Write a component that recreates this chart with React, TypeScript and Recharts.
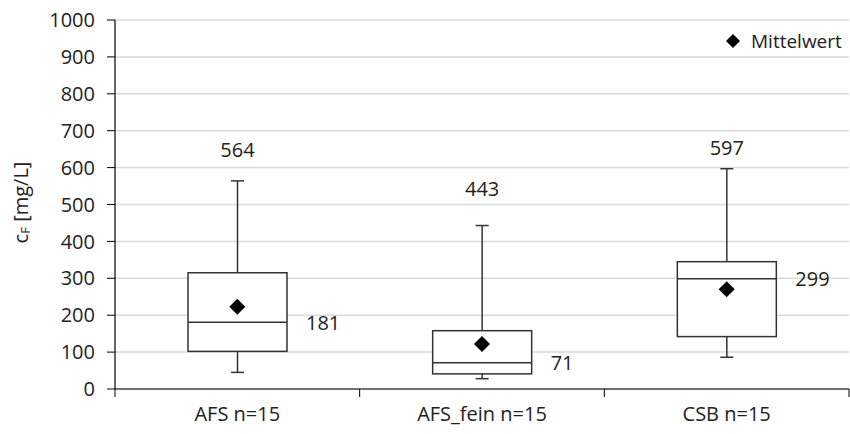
import React from 'react';
import { ComposedChart, Bar, Scatter, XAxis, YAxis, CartesianGrid } from 'recharts';

const categories = ['AFS n=15', 'AFS_fein n=15', 'CSB n=15'];
const minVals = [45, 28, 86];
const q1Vals = [102, 41, 142];
const medianVals = [181, 71, 299];
const q3Vals = [315, 158, 345];
const maxVals = [564, 443, 597];
const meanVals = [223, 122, 270];
const yTicks = [0, 100, 200, 300, 400, 500, 600, 700, 800, 900, 1000];
const xTicks = [0, 0.5, 1, 1.5, 2, 2.5, 3];
const legendLabel = 'Mittelwert';

const data = categories.map((name, i) => ({
  x: i + 0.5,
  name,
  min: minVals[i],
  q1: q1Vals[i],
  median: medianVals[i],
  q3: q3Vals[i],
  max: maxVals[i],
  mean: meanVals[i],
  range: [minVals[i], maxVals[i]],
}));

const FONT = '"Open Sans", sans-serif';
const TEXT = '#222222';
const LINE = '#333333';
const maxLabelLift = [31, 37, 21];

const BoxShape = (props: any) => {
  const { x, y, width, height, payload, index } = props;
  const top = Math.min(y, y + height);
  const bottom = Math.max(y, y + height);
  const p = payload;
  const ppu = (bottom - top) / (p.max - p.min);
  const yOf = (v: number) => bottom - (v - p.min) * ppu;
  const cx = x + width / 2;
  const cap = 6.5;
  return (
    <g>
      <line x1={cx} x2={cx} y1={yOf(p.max)} y2={yOf(p.q3)} stroke={LINE} strokeWidth={1.5} />
      <line x1={cx} x2={cx} y1={yOf(p.q1)} y2={yOf(p.min)} stroke={LINE} strokeWidth={1.5} />
      <line x1={cx - cap} x2={cx + cap} y1={yOf(p.max)} y2={yOf(p.max)} stroke={LINE} strokeWidth={1.5} />
      <line x1={cx - cap} x2={cx + cap} y1={yOf(p.min)} y2={yOf(p.min)} stroke={LINE} strokeWidth={1.5} />
      <rect x={x} y={yOf(p.q3)} width={width} height={yOf(p.q1) - yOf(p.q3)} fill="#fff" stroke={LINE} strokeWidth={1.5} />
      <line x1={x} x2={x + width} y1={yOf(p.median)} y2={yOf(p.median)} stroke={LINE} strokeWidth={1.5} />
      <text x={cx} y={yOf(p.max) - maxLabelLift[index]} textAnchor="middle" dominantBaseline="central" fontFamily={FONT} fontSize={20} fill={TEXT}>
        {p.max}
      </text>
      <text x={x + width + 19} y={yOf(p.median)} textAnchor="start" dominantBaseline="central" fontFamily={FONT} fontSize={20} fill={TEXT}>
        {p.median}
      </text>
    </g>
  );
};

const Diamond = (props: any) => {
  const { cx, cy } = props;
  const r = 8;
  return <path d={`M${cx},${cy - r} L${cx + r},${cy} L${cx},${cy + r} L${cx - r},${cy} Z`} fill="#000" />;
};

const XTick = (props: any) => {
  const { x, y, payload } = props;
  const v = payload.value;
  if (Number.isInteger(v)) {
    return <line x1={x} x2={x} y1={y} y2={y + 8} stroke="#000" strokeWidth={1} />;
  }
  const idx = Math.floor(v);
  return (
    <text x={x} y={y + 24} textAnchor="middle" dominantBaseline="central" fontFamily={FONT} fontSize={20} fill={TEXT}>
      {categories[idx]}
    </text>
  );
};

const YLabel = (props: any) => {
  const vb = props.viewBox || { x: 0, y: 20, width: 115, height: 369 };
  const cx = vb.x + 20;
  const cy = vb.y + vb.height / 2 - 2;
  return (
    <text transform={`rotate(-90, ${cx}, ${cy})`} x={cx} y={cy} textAnchor="middle" dominantBaseline="central" fontFamily={FONT} fontSize={20} fill={TEXT}>
      <tspan>c</tspan>
      <tspan dy={5} fontSize={13}>F</tspan>
      <tspan dy={-5}> [mg/L]</tspan>
    </text>
  );
};

export default function App() {
  return (
    <div style={{ position: 'absolute', left: 0, top: 0, width: 850, height: 434 }}>
      <ComposedChart width={850} height={434} data={data} margin={{ top: 20, right: 1, bottom: 0, left: 0 }}>
        <CartesianGrid vertical={false} stroke="#d9d9d9" strokeWidth={1.5} />
        <XAxis
          type="number"
          dataKey="x"
          domain={[0, 3]}
          ticks={xTicks}
          interval={0}
          tickLine={false}
          tickSize={0}
          tickMargin={0}
          tick={<XTick />}
          height={45}
          axisLine={{ stroke: '#000', strokeWidth: 1.2 }}
        />
        <YAxis
          type="number"
          domain={[0, 1000]}
          ticks={yTicks}
          interval={0}
          width={115}
          tickSize={8}
          tickMargin={12}
          tick={{ fill: TEXT, fontSize: 20, fontFamily: FONT }}
          axisLine={{ stroke: '#000', strokeWidth: 1.2 }}
          tickLine={{ stroke: '#000' }}
          label={<YLabel />}
        />
        <Bar dataKey="range" barSize={99} shape={<BoxShape />} isAnimationActive={false} legendType="none" />
        <Scatter dataKey="mean" name={legendLabel} shape={<Diamond />} isAnimationActive={false} />
      </ComposedChart>
      <div
        style={{
          position: 'absolute',
          top: 28,
          left: 726,
          display: 'flex',
          alignItems: 'center',
          fontFamily: FONT,
          fontSize: 19,
          color: TEXT,
          whiteSpace: 'nowrap',
        }}
      >
        <svg width={14} height={14} style={{ marginRight: 11 }}>
          <path d="M7,0 L14,7 L7,14 L0,7 Z" fill="#000" />
        </svg>
        <span>{legendLabel}</span>
      </div>
    </div>
  );
}
